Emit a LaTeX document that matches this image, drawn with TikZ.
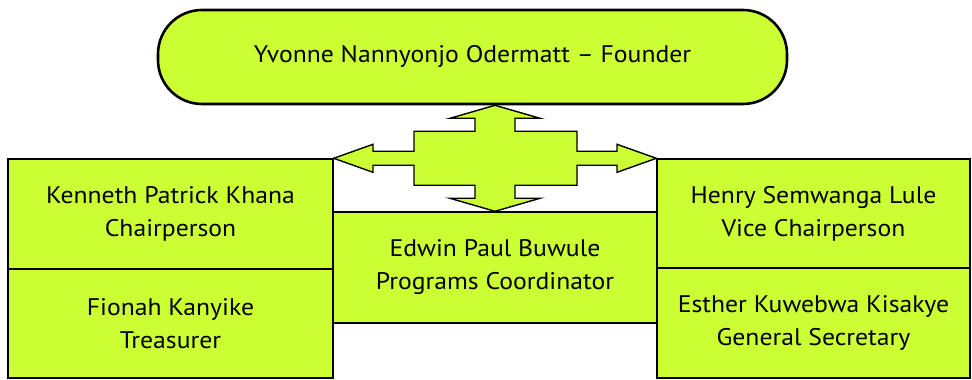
\documentclass[tikz,border=0pt]{standalone}
\usepackage{fontspec}
\setmainfont[FakeStretch=1.07]{PT Sans}
\usepackage{tikz}
\usetikzlibrary{positioning}
\definecolor{leaf}{HTML}{CCFF33}
\tikzset{
  member/.style={draw, fill=leaf, line width=1.4pt, align=center, inner sep=0pt,
    font=\fontsize{24}{33}\selectfont},
  hubarrow/.style={draw, fill=leaf, line width=1.4pt, line join=miter},
}

\begin{document}
\begin{tikzpicture}[x=1pt, y=1pt]
\useasboundingbox (0, 0) rectangle (972, 380);
\newcommand{\hw}{45}
\newcommand{\sw}{20}
%% the founder on top
\node[member, line width=2.6pt, rounded corners=44pt, minimum width=629pt, minimum height=94pt]
  (founder) at (472.5, 323) {Yvonne Nannyonjo Odermatt -- Founder};
%% left and right columns
\node[member, minimum width=325pt, minimum height=110pt] (chair) at (170.5, 166) {Kenneth Patrick Khana\\Chairperson};
\node[member, minimum width=325pt, minimum height=109pt] (treasurer) at (170.5, 56.5) {Fionah Kanyike\\Treasurer};
\node[member, minimum width=313pt, minimum height=109pt] (vice) at (813.5, 166.5) {Henry Semwanga Lule\\Vice Chairperson};
\node[member, minimum width=313pt, minimum height=110pt] (secretary) at (813.5, 57) {Esther Kuwebwa Kisakye\\General Secretary};
%% the coordinator in the middle
\node[member, minimum width=324pt, minimum height=111pt] (coordinator) at (495, 112.5) {Edwin Paul Buwule\\Programs Coordinator};
\coordinate (hub) at (coordinator.north |- chair.north east);
%% four-way arrow
\begin{scope}[shift={(hub)}]
  \draw[hubarrow] (hub |- founder.south) -- (\hw, 40) -- (\sw, 40) -- (\sw, 27) -- (82, 27)
    -- (82, 7) -- (122, 7) -- (122, 14) -- (vice.north west) -- (122, -14) -- (122, -7) -- (82, -7)
    -- (82, -27) -- (\sw, -27) -- (\sw, -40) -- (\hw, -40) -- (coordinator.north)
    -- (-\hw, -40) -- (-\sw, -40) -- (-\sw, -27) -- (-81, -27) -- (-81, -7) -- (-122, -7)
    -- (-122, -14) -- (chair.north east) -- (-122, 14) -- (-122, 7) -- (-81, 7) -- (-81, 27)
    -- (-\sw, 27) -- (-\sw, 40) -- (-\hw, 40) -- cycle;
\end{scope}
\end{tikzpicture}
\end{document}
